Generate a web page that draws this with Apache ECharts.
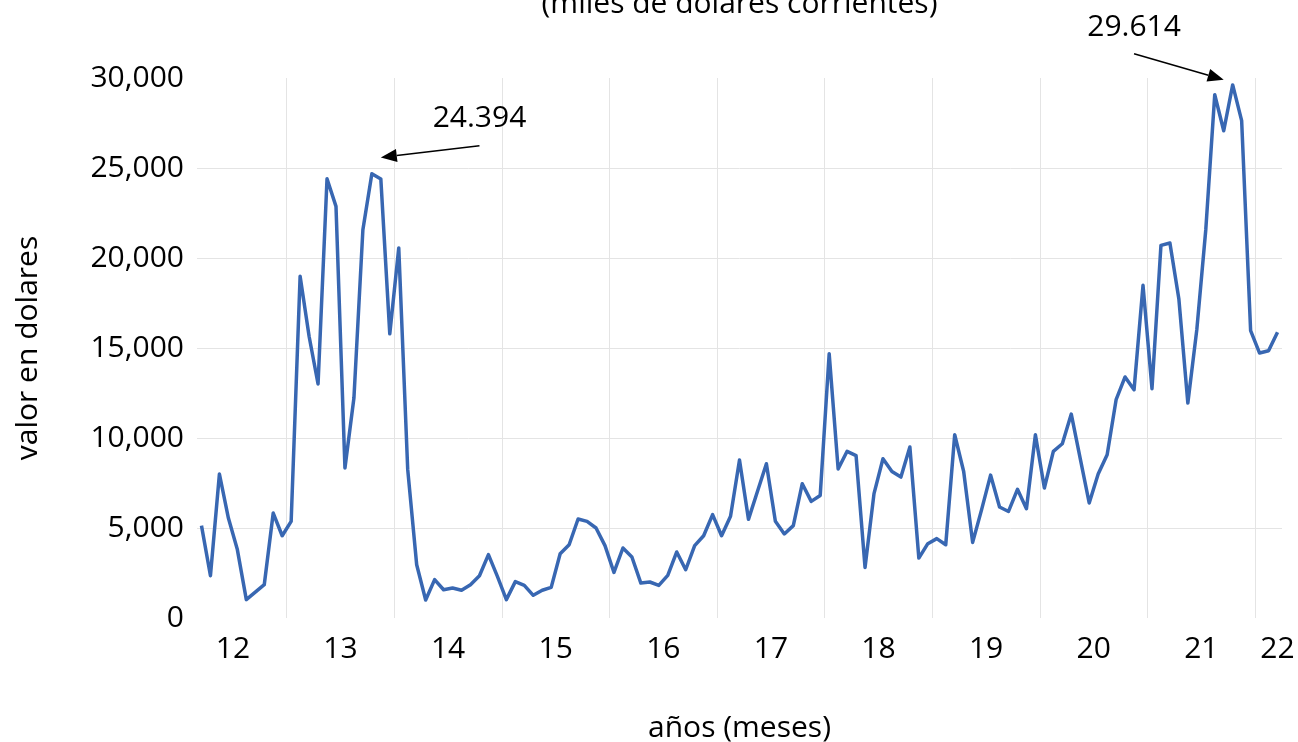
<!DOCTYPE html>
<html>
<head>
<meta charset="utf-8">
<title>valor en dolares</title>
<script src="https://cdn.jsdelivr.net/npm/echarts@6/dist/echarts.min.js"></script>
<style>
  html, body { margin: 0; padding: 0; background: #fff; }
  #line_wrapper { width: 1298px; height: 742px; }
</style>
</head>
<body>
<div id="line_wrapper"></div>
<script>
// monthly values, first point is march 2012, last one march 2022
const startYear = 2012;
const startMonth = 3;
const yearLabels = ["12", "13", "14", "15", "16", "17", "18", "19", "20", "21", "22"];

const values2012 = [5130, 2350, 8000, 5550, 3800, 1020, 1440, 1850, 5830, 4570];
const values2013 = [5370, 18980, 15650, 13000, 24400, 22870, 8330, 12220, 21570, 24680, 24394, 15790];
const values2014 = [20560, 8240, 2960, 1000, 2130, 1570, 1670, 1540, 1850, 2350, 3520, 2310];
const values2015 = [1020, 2020, 1810, 1260, 1540, 1700, 3570, 4070, 5500, 5370, 5000, 4020];
const values2016 = [2530, 3890, 3390, 1940, 2000, 1810, 2370, 3670, 2680, 4020, 4570, 5740];
const values2017 = [4570, 5650, 8780, 5480, 7030, 8570, 5370, 4670, 5130, 7460, 6480, 6810];
const values2018 = [14680, 8280, 9260, 9020, 2810, 6910, 8850, 8140, 7830, 9500, 3330, 4130];
const values2019 = [4410, 4070, 10180, 8140, 4200, 6020, 7940, 6170, 5920, 7150, 6070, 10180];
const values2020 = [7220, 9260, 9680, 11330, 8850, 6390, 8000, 9070, 12130, 13390, 12680, 18480];
const values2021 = [12740, 20700, 20830, 17720, 11940, 16020, 21570, 29070, 27070, 29614, 27630, 15960];
const values2022 = [14720, 14850, 15870];

// the two marked peaks: [category index, value]
const peakNotes = [
  { text: "24.394", textAt: [31, 27740], from: [31, 26240], to: [20, 25590] },
  { text: "29.614", textAt: [104, 32800], from: [104, 31350], to: [114, 29900] }
];

const values = [].concat(values2012, values2013, values2014, values2015, values2016,
  values2017, values2018, values2019, values2020, values2021, values2022);

const months = values.map((v, i) => {
  const m = startMonth - 1 + i;
  const y = startYear + Math.floor(m / 12);
  return y + "-" + String((m % 12) + 1).padStart(2, "0");
});

const fontName = '"Open Sans", "Liberation Sans", sans-serif';
const textColor = "#000";
const gridColor = "#e4e4e4";
const lineColor = "#3867b2";
const grid = { left: 197, right: 16, top: 78, bottom: 124 };

function monthOf(index) {
  return (startMonth - 1 + index) % 12;
}
function yearOf(index) {
  return Math.floor((startMonth - 1 + index) / 12);
}

const option = {
  animation: false,
  backgroundColor: "#fff",
  textStyle: { fontFamily: fontName },
  grid: Object.assign({ containLabel: false, outerBoundsMode: "none" }, grid),
  xAxis: {
    type: "category",
    data: months,
    boundaryGap: true,
    name: "años (meses)",
    nameLocation: "middle",
    nameGap: 95,
    nameTextStyle: { fontSize: 30, color: textColor, fontFamily: fontName },
    axisLine: { show: false },
    axisTick: { show: false },
    axisLabel: {
      // year label in the middle of each year, last one under the final month
      interval: function(index) {
        return monthOf(index) === 5 || index === values.length - 1;
      },
      formatter: function(value, index) {
        const label = yearLabels[yearOf(index)];
        return index === values.length - 1 ? label : "{mid|" + label + "}";
      },
      margin: 16,
      fontSize: 30,
      color: textColor,
      fontFamily: fontName,
      rich: {
        mid: { padding: [0, 0, 0, 9], fontSize: 30, color: textColor, fontFamily: fontName }
      }
    },
    splitLine: {
      show: true,
      showMaxLine: false,
      interval: function(index) {
        return monthOf(index) === 0;
      },
      lineStyle: { color: gridColor, width: 1 }
    }
  },
  yAxis: {
    type: "value",
    min: 0,
    max: 30000,
    interval: 5000,
    name: "valor en dolares",
    nameLocation: "middle",
    nameGap: 154,
    nameTextStyle: { fontSize: 30, color: textColor, fontFamily: fontName },
    axisLine: { show: false },
    axisTick: { show: false },
    axisLabel: {
      margin: 13,
      fontSize: 30,
      color: textColor,
      fontFamily: fontName,
      formatter: function(v) {
        return v.toLocaleString("en-US");
      }
    },
    splitLine: {
      show: true,
      showMinLine: false,
      showMaxLine: false,
      lineStyle: { color: gridColor, width: 1 }
    }
  },
  series: [
    {
      type: "line",
      data: values,
      symbol: "none",
      lineStyle: { color: lineColor, width: 3.5, join: "round" },
      itemStyle: { color: lineColor }
    }
  ]
};

const container = document.getElementById("line_wrapper");
const myChart = echarts.init(container);
myChart.setOption(option);

// title and peak arrows placed through the chart's own scales
function drawNotes() {
  const elements = [];
  const W = myChart.getWidth();
  elements.push({
    type: "text",
    x: (grid.left + W - grid.right) / 2,
    y: 4,
    style: {
      text: "(miles de dolares corrientes)",
      font: "30px " + fontName,
      fill: textColor,
      align: "center",
      verticalAlign: "middle"
    }
  });
  peakNotes.forEach(note => {
    const t = myChart.convertToPixel({ gridIndex: 0 }, note.textAt);
    const a = myChart.convertToPixel({ gridIndex: 0 }, note.from);
    const b = myChart.convertToPixel({ gridIndex: 0 }, note.to);
    const ang = Math.atan2(b[1] - a[1], b[0] - a[0]);
    const len = 16;
    const half = 6.5;
    const bx = b[0] - len * Math.cos(ang);
    const by = b[1] - len * Math.sin(ang);
    elements.push({
      type: "text",
      x: t[0],
      y: t[1],
      style: { text: note.text, font: "30px " + fontName, fill: textColor, align: "center", verticalAlign: "middle" }
    });
    elements.push({
      type: "line",
      shape: { x1: a[0], y1: a[1], x2: bx, y2: by },
      style: { stroke: "#000", lineWidth: 1.5 }
    });
    elements.push({
      type: "polygon",
      shape: {
        points: [
          [b[0], b[1]],
          [bx - half * Math.sin(ang), by + half * Math.cos(ang)],
          [bx + half * Math.sin(ang), by - half * Math.cos(ang)]
        ]
      },
      style: { fill: "#000" }
    });
  });
  myChart.setOption({ graphic: elements });
}
drawNotes();

window.addEventListener("resize", function() {
  myChart.resize();
  drawNotes();
});
</script>
</body>
</html>
